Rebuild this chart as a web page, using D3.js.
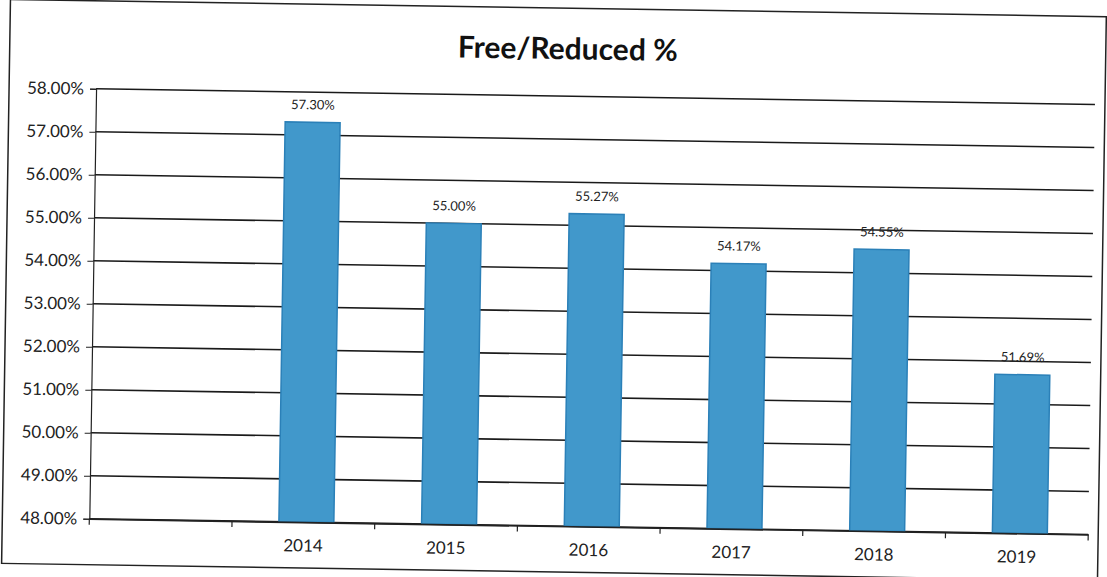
<!DOCTYPE html>
<html><head><meta charset="utf-8">
<script src="https://cdn.jsdelivr.net/npm/d3@7"></script>
<style>html,body{margin:0;padding:0;background:#fff;}svg{display:block;}</style>
</head><body>
<script>
const categories = ["", "2014", "2015", "2016", "2017", "2018", "2019"];
const values = [null, 57.30, 55.00, 55.27, 54.17, 54.55, 51.69];
const yTicks = [48, 49, 50, 51, 52, 53, 54, 55, 56, 57, 58];
const title = "Free/Reduced %";

(function () {
const W = 1107, H = 577;
const pLeft = 93, pRight = 1092, pTop = 96, pBottom = 526;
const svg = d3.select("body").append("svg").attr("width", W).attr("height", H);
const g = svg.append("g").attr("transform", "rotate(0.9,553,288)");
const font = "Lato, 'Open Sans', sans-serif";

g.append("rect").attr("x", 6).attr("y", 8).attr("width", 1096).attr("height", 564)
  .attr("fill", "none").attr("stroke", "#222").attr("stroke-width", 1.5);

const x = d3.scaleBand().domain(categories).range([pLeft, pRight]).paddingInner(0.615).paddingOuter(0.3075);
const xb = d3.scaleBand().domain(categories).range([pLeft, pRight]);
const y = d3.scaleLinear().domain([48, 58]).range([pBottom, pTop]);

// gridlines
g.append("g").selectAll("line").data(yTicks).join("line")
  .attr("x1", pLeft).attr("x2", pRight).attr("y1", d => y(d)).attr("y2", d => y(d))
  .attr("stroke", "#1a1a1a").attr("stroke-width", 1.6);

// y axis
const yAxis = d3.axisLeft(y).tickValues(yTicks).tickSize(6).tickFormat(d => d3.format(".2f")(d) + "%");
const ya = g.append("g").attr("transform", `translate(${pLeft},0)`).call(yAxis);
ya.select(".domain").attr("stroke", "#222").attr("stroke-width", 1.2);
ya.selectAll(".tick line").attr("stroke", "#222");
ya.selectAll("text").attr("font-family", font).attr("font-size", 17).attr("fill", "#222").attr("x", -12);

const rows = categories.map((c, i) => ({c, v: values[i]})).filter(d => d.v != null);

// bars
g.append("g").selectAll("rect").data(rows).join("rect")
  .attr("x", d => x(d.c) + 3).attr("width", x.bandwidth())
  .attr("y", d => y(d.v)).attr("height", d => y(48) - y(d.v))
  .attr("fill", "#4198cb").attr("stroke", "#2b80b8").attr("stroke-width", 1.5);

// data labels
g.append("g").selectAll("text").data(rows).join("text")
  .attr("x", d => x(d.c) + 3 + x.bandwidth() / 2).attr("y", d => y(d.v) - 13)
  .attr("text-anchor", "middle").attr("font-family", font).attr("font-size", 13).attr("fill", "#222")
  .text(d => d3.format(".2f")(d.v) + "%");

// x axis
const xAxis = d3.axisBottom(xb).tickSize(0).tickFormat(d => d);
const xa = g.append("g").attr("transform", `translate(0,${pBottom})`).call(xAxis);
xa.select(".domain").attr("stroke", "#222").attr("stroke-width", 1.6);
xa.selectAll("text").attr("font-family", font).attr("font-size", 17).attr("fill", "#222").attr("dy", "1.55em");
const bounds = categories.map(c => xb(c)).concat([pRight]);
g.append("g").selectAll("line").data(bounds).join("line")
  .attr("x1", d => d).attr("x2", d => d).attr("y1", pBottom).attr("y2", pBottom + 6)
  .attr("stroke", "#222").attr("stroke-width", 1.2);

// title
g.append("text").attr("x", 564).attr("y", 59).attr("text-anchor", "middle")
  .attr("font-family", font).attr("font-weight", 700).attr("font-size", 30).attr("fill", "#111").text(title);
})();
</script>
</body></html>
